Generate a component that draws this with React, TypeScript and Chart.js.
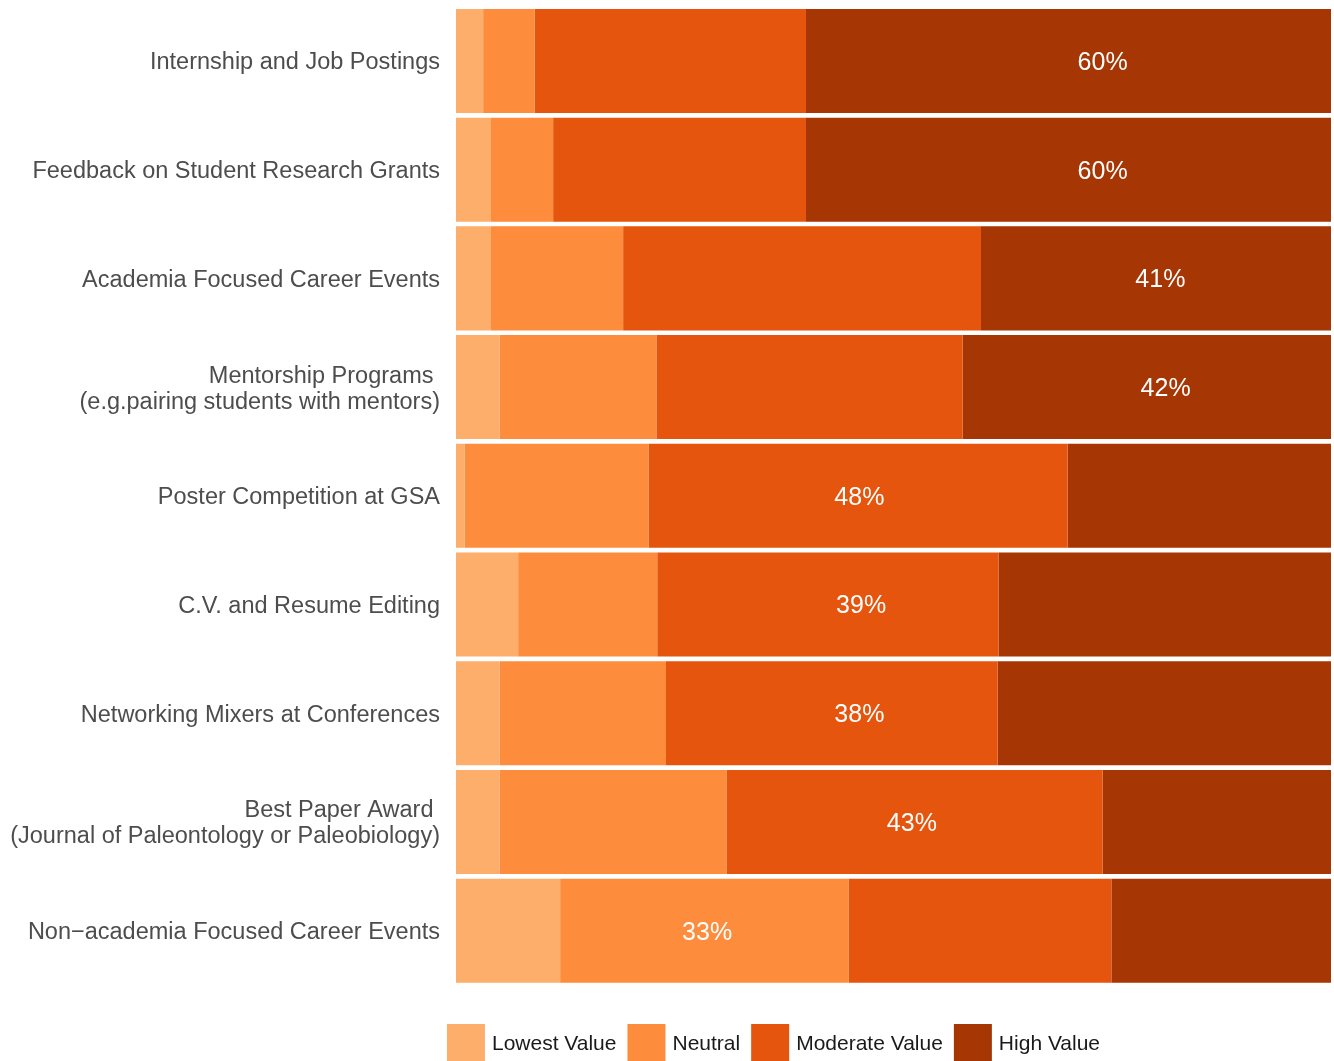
import { useEffect, useRef } from "react";
import { Chart, registerables } from "chart.js";

Chart.register(...registerables);

const FONT = '"Liberation Sans", Arial, Helvetica, sans-serif';

// Categories, top to bottom
const categories: (string | string[])[] = [
  "Internship and Job Postings",
  "Feedback on Student Research Grants",
  "Academia Focused Career Events",
  ["Mentorship Programs ", "(e.g.pairing students with mentors)"],
  "Poster Competition at GSA",
  "C.V. and Resume Editing",
  "Networking Mixers at Conferences",
  ["Best Paper Award ", "(Journal of Paleontology or Paleobiology)"],
  "Non\u2212academia Focused Career Events",
];

const seriesNames = ["Lowest Value", "Neutral", "Moderate Value", "High Value"];
const seriesColors = ["#FDAE6B", "#FD8D3C", "#E6550D", "#A63603"];

// Percent shares
const lowestValue = [3.1, 4.0, 4.0, 5.0, 1.0, 7.1, 5.0, 5.0, 11.9];
const neutralValue = [5.9, 7.1, 15.1, 17.9, 21.0, 15.9, 19.0, 25.9, 33.0];
const moderateValue = [31.0, 28.9, 40.9, 35.0, 47.9, 39.0, 37.9, 43.0, 30.0];
const highValue = [60.0, 60.0, 40.0, 42.1, 30.1, 38.0, 38.1, 26.1, 25.1];

// Printed labels: which segment, their text, and where they sit on the percent axis
const labelSeries = [3, 3, 3, 3, 2, 2, 2, 2, 1];
const labelText = ["60%", "60%", "41%", "42%", "48%", "39%", "38%", "43%", "33%"];
const labelPosition = [73.9, 73.9, 80.5, 81.1, 46.1, 46.3, 46.1, 52.1, 28.7];

const seriesValues = [lowestValue, neutralValue, moderateValue, highValue];

const segmentLabelPlugin = {
  id: "segmentLabels",
  afterDatasetsDraw(chart: any) {
    const ctx = chart.ctx;
    const xScale = chart.scales.x;
    ctx.save();
    ctx.font = `25px ${FONT}`;
    ctx.fillStyle = "#FFFFFF";
    ctx.textAlign = "center";
    ctx.textBaseline = "middle";
    labelSeries.forEach((ds, i) => {
      const el = chart.getDatasetMeta(ds).data[i];
      if (!el) return;
      const cx = xScale.getPixelForValue(labelPosition[i]);
      ctx.fillText(labelText[i], cx, el.y + 2);
    });
    ctx.restore();
  },
};

const legendPlugin = {
  id: "bottomLegend",
  afterDraw(chart: any) {
    const ctx = chart.ctx;
    ctx.save();
    ctx.font = `21px ${FONT}`;
    const box = 38;
    const gapText = 7;
    const gapItem = 11;
    const items = chart.data.datasets;
    const widths = items.map((d: any) => ctx.measureText(d.label).width);
    const total =
      widths.reduce((a: number, w: number) => a + box + gapText + w, 0) +
      gapItem * (widths.length - 1);
    let x = 773.5 - total / 2;
    const top = chart.height - 37;
    items.forEach((d: any, i: number) => {
      ctx.fillStyle = d.backgroundColor;
      ctx.fillRect(x, top, box, box);
      ctx.fillStyle = "#1A1A1A";
      ctx.textAlign = "left";
      ctx.textBaseline = "middle";
      ctx.fillText(d.label, x + box + gapText, top + box / 2 + 1);
      x += box + gapText + widths[i] + gapItem;
    });
    ctx.restore();
  },
};

export default function App() {
  const canvasRef = useRef<HTMLCanvasElement | null>(null);

  useEffect(() => {
    if (!canvasRef.current) return;
    const chart = new Chart(canvasRef.current, {
      type: "bar",
      data: {
        labels: categories,
        datasets: seriesNames.map((name, k) => ({
          label: name,
          data: seriesValues[k],
          backgroundColor: seriesColors[k],
          borderWidth: 0,
          categoryPercentage: 1,
          barPercentage: 0.957,
        })),
      },
      options: {
        indexAxis: "y",
        responsive: false,
        animation: false,
        devicePixelRatio: 1,
        layout: { padding: { left: 0, right: 3, top: 6.6, bottom: 76 } },
        plugins: {
          legend: { display: false },
          tooltip: { enabled: false },
        },
        scales: {
          x: {
            stacked: true,
            min: 0,
            max: 100,
            display: false,
          },
          y: {
            stacked: true,
            grid: { display: false, drawTicks: false },
            border: { display: false },
            ticks: {
              color: "#4D4D4D",
              padding: 16,
              labelOffset: 2,
              font: { family: FONT, size: 23.5, lineHeight: 26 / 23.5 },
            },
            afterFit(scale: any) {
              scale.width = 456;
              scale.paddingTop = 0;
              scale.paddingBottom = 0;
            },
          },
        },
      },
      plugins: [segmentLabelPlugin, legendPlugin],
    });
    return () => chart.destroy();
  }, []);

  return (
    <div style={{ position: "absolute", left: 0, top: 0, width: 1334, height: 1061, background: "#FFFFFF" }}>
      <canvas ref={canvasRef} width={1334} height={1061} style={{ display: "block", width: 1334, height: 1061 }} />
    </div>
  );
}
